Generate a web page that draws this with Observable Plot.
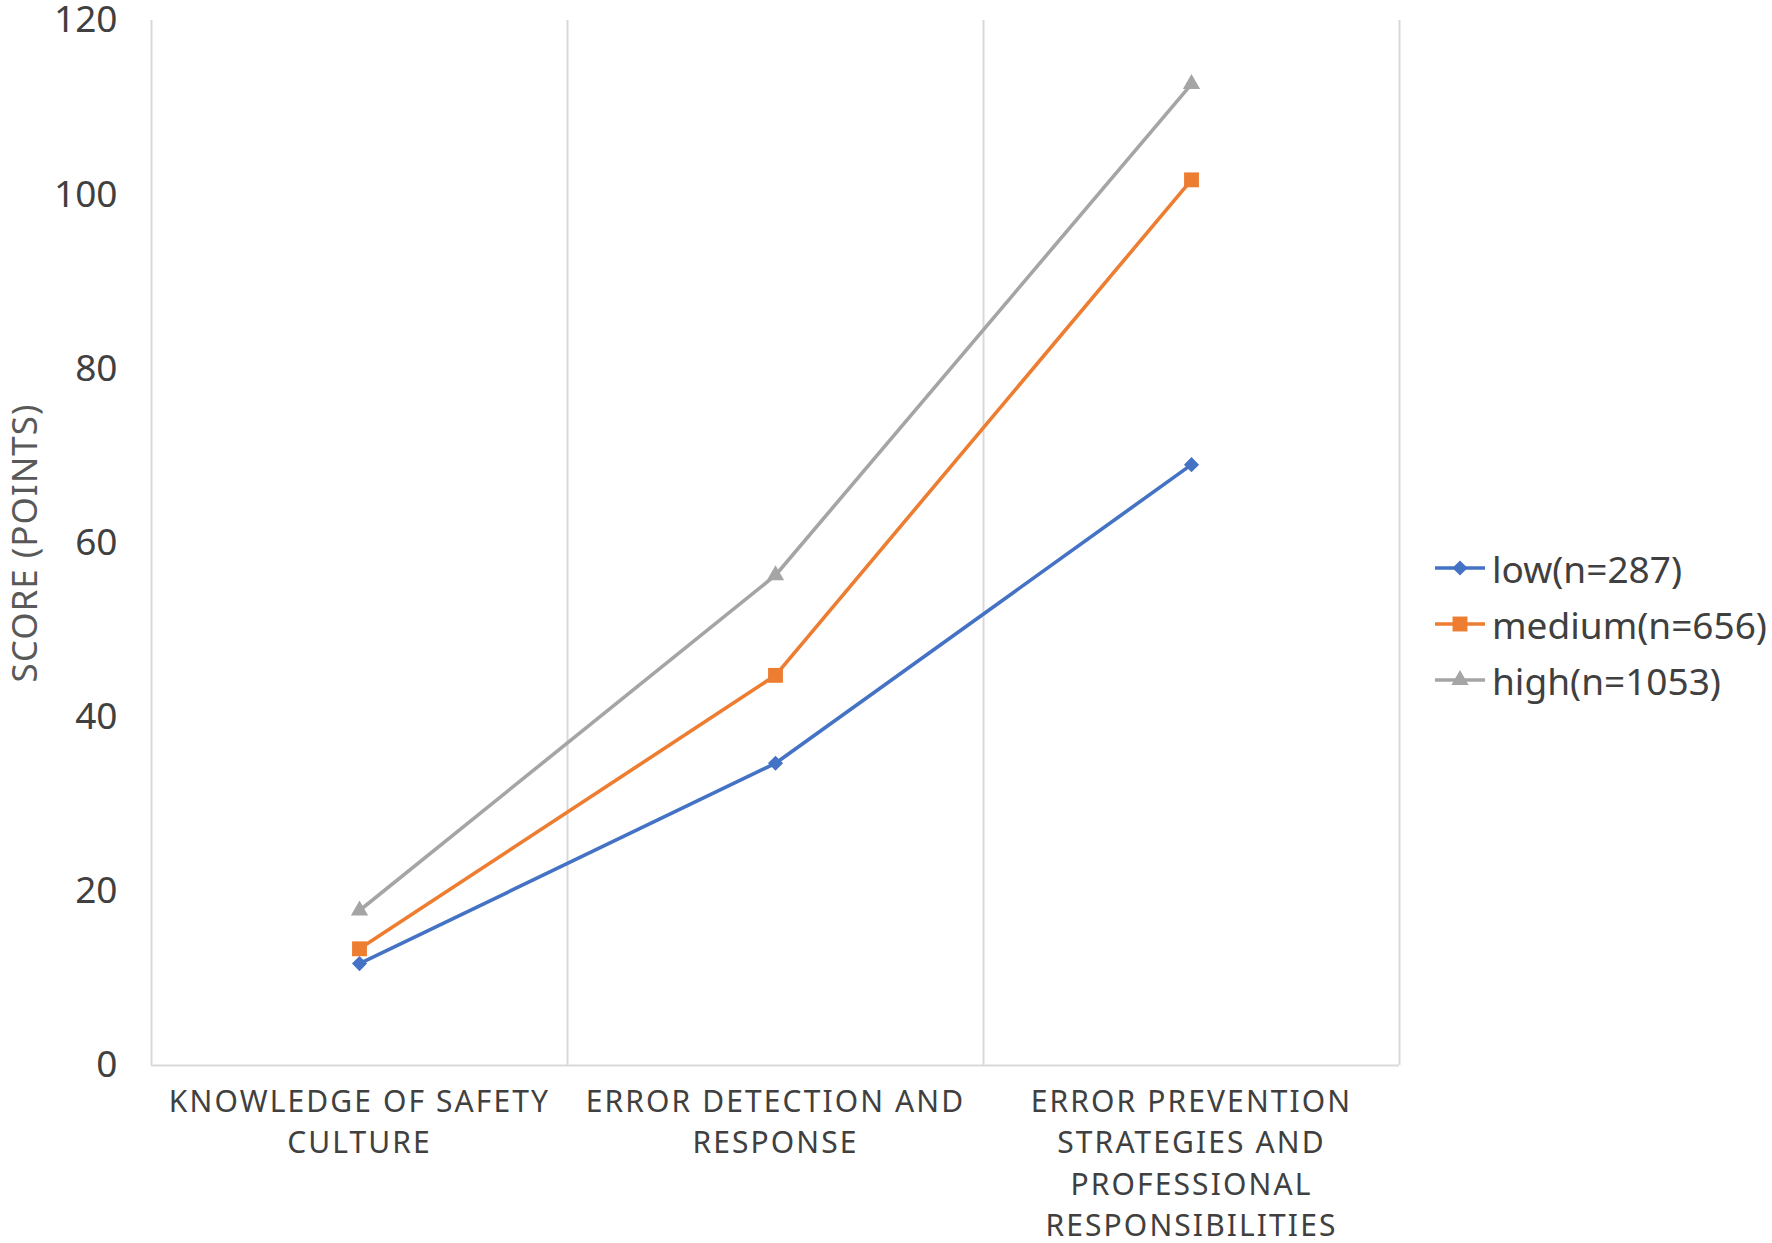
<!DOCTYPE html>
<html>
<head>
<meta charset="utf-8">
<script src="https://cdn.jsdelivr.net/npm/d3@7"></script>
<script src="https://cdn.jsdelivr.net/npm/@observablehq/plot@0.6"></script>
<style>
  html, body { margin: 0; padding: 0; background: #fff; }
  #wrap { position: relative; width: 1772px; height: 1243px; font-family: "Noto Sans", sans-serif; }
  #wrap > svg { overflow: visible; }
  #legend { position: absolute; left: 1435px; top: 540px; }
  .row { display: flex; align-items: center; height: 56px; font-size: 37px; color: #404040; }
  .row svg { margin-right: 7px; }
</style>
</head>
<body>
<div id="wrap"></div>
<script>
const categories = [
  "KNOWLEDGE OF SAFETY CULTURE",
  "ERROR DETECTION AND RESPONSE",
  "ERROR PREVENTION STRATEGIES AND PROFESSIONAL RESPONSIBILITIES"
];
const categoryLabels = [
  "KNOWLEDGE OF SAFETY\nCULTURE",
  "ERROR DETECTION AND\nRESPONSE",
  "ERROR PREVENTION\nSTRATEGIES AND\nPROFESSIONAL\nRESPONSIBILITIES"
];
const seriesNames = ["low(n=287)", "medium(n=656)", "high(n=1053)"];
const lowValues = [11.7, 34.7, 69.0];
const mediumValues = [13.4, 44.8, 101.7];
const highValues = [17.8, 56.3, 112.7];
const yTicks = [0, 20, 40, 60, 80, 100, 120];
const yLabel = "SCORE (POINTS)";

const seriesColors = ["#4472C4", "#ED7D31", "#A5A5A5"];
const seriesSymbols = ["diamond2", "square", "triangle"];
const seriesR = [6.8, 8.4, 6.4];

const seriesValues = [lowValues, mediumValues, highValues];
const data = [];
seriesNames.forEach((s, i) => {
  categories.forEach((c, j) => data.push({series: s, category: c, value: seriesValues[i][j]}));
});

const W = 1772, H = 1243;
const mL = 151, mR = 373, mT = 20, mB = 178;
const step = (W - mL - mR) / categories.length;
const gridColor = "#d9d9d9";

const marks = [
  Plot.ruleX(categories, {x: d => d, dx: step / 2, stroke: gridColor, strokeWidth: 2}),
  Plot.ruleX([categories[0]], {x: d => d, dx: -step / 2, stroke: gridColor, strokeWidth: 2}),
  Plot.ruleY([0], {stroke: gridColor, strokeWidth: 2}),
  Plot.axisY({ticks: yTicks, tickSize: 0, tickPadding: 34, fontSize: 37, fill: "#404040", label: null}),
  Plot.text([yLabel], {frameAnchor: "left", textAnchor: "middle", dx: -126, rotate: -90, text: d => d, fontSize: 35, fill: "#595959"}),
  Plot.text(categories, {x: d => d, text: (d, i) => categoryLabels[i], frameAnchor: "bottom", lineAnchor: "top", dy: 17, lineHeight: 1.38, fontSize: 30, fill: "#404040"})
];
seriesNames.forEach((s, i) => {
  const rows = data.filter(d => d.series === s);
  marks.push(Plot.line(rows, {x: "category", y: "value", stroke: seriesColors[i], strokeWidth: 3.6}));
  marks.push(Plot.dot(rows, {x: "category", y: "value", symbol: () => seriesSymbols[i], fill: seriesColors[i], r: seriesR[i]}));
});

const chart = Plot.plot({
  width: W, height: H,
  marginLeft: mL, marginRight: mR, marginTop: mT, marginBottom: mB,
  style: {fontFamily: "Noto Sans, sans-serif", background: "#fff", overflow: "visible"},
  x: {type: "point", domain: categories, padding: 0.5, axis: null},
  y: {domain: [0, 120], axis: null},
  symbol: {type: "identity"},
  marks
});

// letter spacing for the category and axis-title texts
const catLines = new Set(categoryLabels.flatMap(l => l.split("\n")));
chart.querySelectorAll("text, tspan").forEach(el => {
  const t = el.textContent;
  if (catLines.has(t)) el.style.letterSpacing = "2.1px";
  else if (el.tagName === "text" && t === yLabel) el.style.letterSpacing = "1px";
});
document.getElementById("wrap").appendChild(chart);

const legend = document.createElement("div");
legend.id = "legend";
seriesNames.forEach((s, i) => {
  const row = document.createElement("div");
  row.className = "row";
  const sw = d3.create("svg").attr("width", 50).attr("height", 20);
  sw.append("line").attr("x1", 0).attr("x2", 50).attr("y1", 10).attr("y2", 10)
    .attr("stroke", seriesColors[i]).attr("stroke-width", 3.6);
  sw.append("path").attr("transform", "translate(25,10)")
    .attr("d", d3.symbol(i === 0 ? d3.symbolDiamond2 : i === 1 ? d3.symbolSquare : d3.symbolTriangle, Math.PI * seriesR[i] * seriesR[i])())
    .attr("fill", seriesColors[i]);
  row.appendChild(sw.node());
  const t = document.createElement("span");
  t.textContent = s;
  row.appendChild(t);
  legend.appendChild(row);
});
document.getElementById("wrap").appendChild(legend);
</script>
</body>
</html>
